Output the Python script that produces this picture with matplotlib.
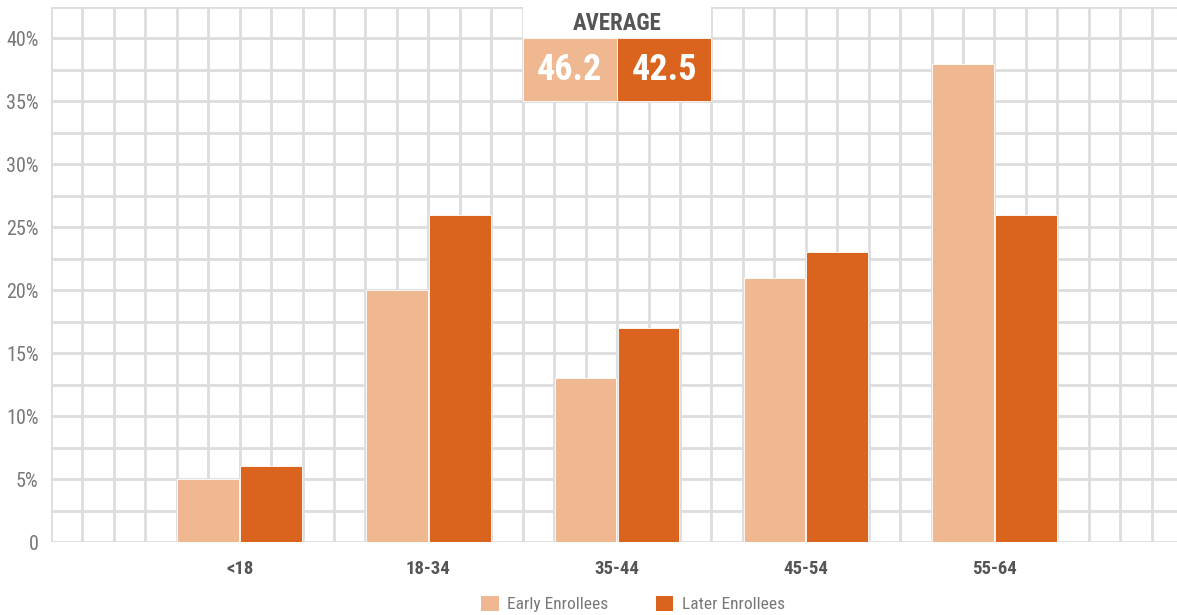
import matplotlib.pyplot as plt
from matplotlib.patches import Rectangle, Patch

# --- DATA ---
age_groups = ["<18", "18-34", "35-44", "45-54", "55-64"]
early_pct = [5, 20, 13, 21, 38]
later_pct = [6, 26, 17, 23, 26]
series_names = ["Early Enrollees", "Later Enrollees"]
average_age = [46.2, 42.5]

LIGHT = "#F0B891"
DARK = "#DA641E"
GRID = "#DDDDDD"

plt.rcParams["font.family"] = ["Roboto Condensed", "Roboto", "DejaVu Sans"]

fig = plt.figure(figsize=(11.77, 6.15), dpi=100)
# axes in pixel terms: left 51, right 1177, bottom 542, top 7
ax = fig.add_axes([51 / 1177, 73 / 615, 1126 / 1177, 535 / 615])

# one grid cell = 2.5% vertically, one x unit horizontally
centers = [6 + 6 * i for i in range(len(age_groups))]
bar_w = 1.96
ax.bar([c - 1 for c in centers], early_pct, width=bar_w, color=LIGHT,
       edgecolor="white", linewidth=0.6, zorder=3)
ax.bar([c + 1 for c in centers], later_pct, width=bar_w, color=DARK,
       edgecolor="white", linewidth=0.6, zorder=3)

ax.set_xlim(0, 1126 / 31.45)
ax.set_ylim(0, 42.5)

ax.set_xticks(centers)
ax.set_xticklabels(age_groups, fontsize=13.5, fontweight="bold", color="#555555")
ax.set_xticks(range(0, 36), minor=True)
ax.set_yticks(range(0, 45, 5))
ax.set_yticklabels(["0"] + [f"{v}%" for v in range(5, 45, 5)],
                   fontsize=14.5, color="#777777")
ax.set_yticks([2.5 + 5 * i for i in range(9)], minor=True)
ax.tick_params(which="both", length=0)
ax.tick_params(axis="x", pad=13)
ax.tick_params(axis="y", pad=9)

ax.grid(True, which="both", color=GRID, linewidth=2.0, zorder=0)
ax.set_axisbelow(True)
for s in ax.spines.values():
    s.set_visible(False)

# --- AVERAGE BOX ---
ax.add_patch(Rectangle((15, 40), 6, 2.5, facecolor="white", edgecolor="none",
                       zorder=4, clip_on=False))
ax.add_patch(Rectangle((15, 35), 3, 5, facecolor=LIGHT, edgecolor="white",
                       linewidth=0.6, zorder=4))
ax.add_patch(Rectangle((18, 35), 3, 5, facecolor=DARK, edgecolor="white",
                       linewidth=0.6, zorder=4))
ax.text(18, 41.2, "AVERAGE", ha="center", va="center", fontsize=16.5,
        fontweight="bold", color="#555555", zorder=5)
ax.text(16.5, 37.5, f"{average_age[0]}", ha="center", va="center", fontsize=26,
        fontweight="bold", color="white", zorder=5)
ax.text(19.5, 37.5, f"{average_age[1]}", ha="center", va="center", fontsize=26,
        fontweight="bold", color="white", zorder=5)

# --- LEGEND ---
handles = [Patch(facecolor=LIGHT, edgecolor="none"),
           Patch(facecolor=DARK, edgecolor="none")]
fig.legend(handles, series_names, loc="center", bbox_to_anchor=(633 / 1177, 11 / 615),
           ncol=2, frameon=False, fontsize=12.5, labelcolor="#777777",
           handlelength=1.0, handleheight=1.0, handletextpad=0.5,
           columnspacing=2.7)

plt.savefig("out.png", dpi=100)
plt.close()
